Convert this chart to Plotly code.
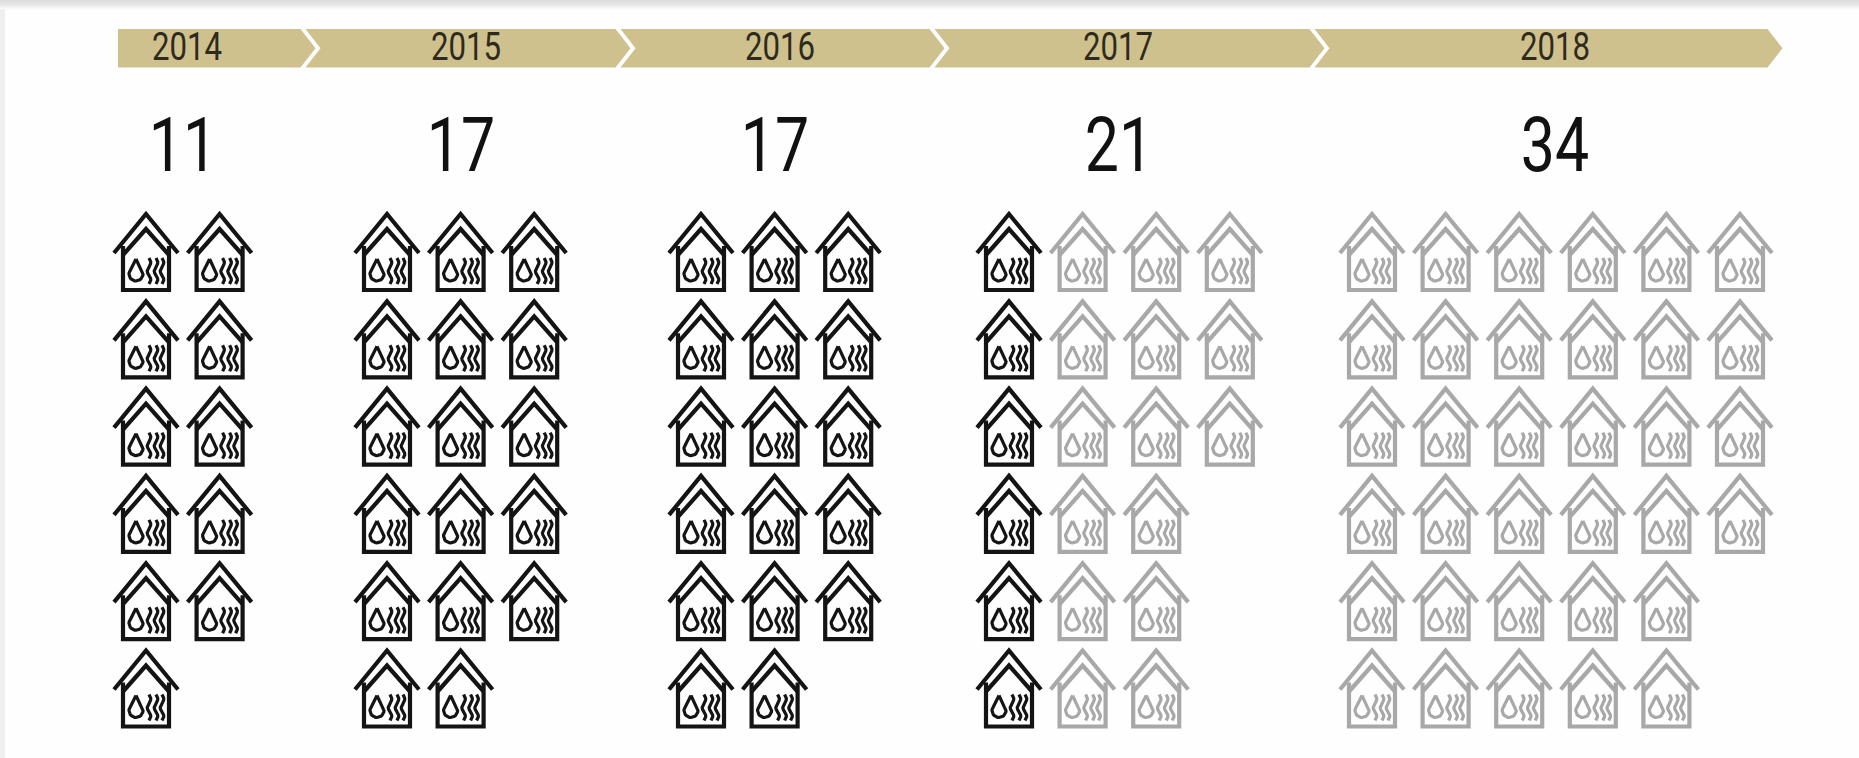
import numpy as np
import plotly.graph_objects as go

W, H = 1859, 758

# ---- data ----
years = ["2014", "2015", "2016", "2017", "2018"]
totals = [11, 17, 17, 21, 34]
dark_counts = [11, 17, 17, 6, 0]
# houses per row in every year block
row_counts = {
    "2014": [2, 2, 2, 2, 2, 1],
    "2015": [3, 3, 3, 3, 3, 2],
    "2016": [3, 3, 3, 3, 3, 2],
    "2017": [4, 4, 4, 3, 3, 3],
    "2018": [6, 6, 6, 6, 5, 5],
}
# ---- layout constants (in figure pixels) ----
block_x = [146, 387, 701, 1009, 1372]
label_x = [187, 466, 780, 1118, 1555]
count_x = [183, 461, 775, 1119, 1555]
seg_edges = [118, 303, 618, 932, 1312, 1770]
COL_STEP, ROW_STEP, TOP = 73.6, 87.3, 214
BAR_T, BAR_B, TIP = 29, 67.5, 15
GAP = 2.5
GOLD, DARK, GREY = "#cfc18e", "#141414", "#a8a8a8"


def sline(x0):
    t = np.linspace(0, 1, 15)
    return list(x0 + 1.8 * np.sin(t * 2 * np.pi * 1.5)), list(44 + t * 26)


OUTER = [
    ([-32, 0, 32], [39, 0, 39]),
    ([-23, -23, 23, 23], [32, 76, 76, 32]),
    ([-23, 0, 23], [41, 15, 41]),
]
_a = np.linspace(0.75, -np.pi - 0.75, 25)
INNER = [
    ([-10] + list(-10 + 7 * np.cos(_a)) + [-10], [45] + list(60 - 7 * np.sin(_a)) + [45]),
    sline(3), sline(10), sline(16),
]


def houses(positions, paths):
    xs, ys = [], []
    for cx, cy in positions:
        for px, py in paths:
            xs += [cx + v for v in px] + [None]
            ys += [cy + v for v in py] + [None]
    return xs, ys


fig = go.Figure()

# top and left page edges
for i, c in enumerate(["#dcdcdc", "#e0e0e0", "#e6e6e6", "#ececec", "#f3f3f3", "#f9f9f9"]):
    fig.add_shape(type="rect", x0=0, x1=W, y0=i * 1.6, y1=(i + 1) * 1.6 + 0.5,
                  fillcolor=c, line_width=0, layer="below")
fig.add_shape(type="rect", x0=0, x1=5, y0=9, y1=H, fillcolor="#f0f0f0",
              line_width=0, layer="below")

# timeline chevrons
mid = (BAR_T + BAR_B) / 2
for i, yr in enumerate(years):
    l, r = seg_edges[i], seg_edges[i + 1] - GAP
    if i == 0:
        xs = [l, r, r + TIP, r, l, l]
        ys = [BAR_T, BAR_T, mid, BAR_B, BAR_B, BAR_T]
    else:
        l += GAP
        xs = [l, r, r + TIP, r, l, l + TIP, l]
        ys = [BAR_T, BAR_T, mid, BAR_B, BAR_B, mid, BAR_T]
    fig.add_trace(go.Scatter(x=xs, y=ys, mode="lines", fill="toself", fillcolor=GOLD,
                             line=dict(width=0), hoverinfo="skip", showlegend=False))

# year labels and totals
fig.add_trace(go.Scatter(x=label_x, y=[mid + 2] * 5, text=years, mode="text",
                         textfont=dict(family="Roboto", size=39, color="#2e2a1c"),
                         textposition="middle center", hoverinfo="skip", showlegend=False))
fig.add_trace(go.Scatter(x=count_x, y=[152] * 5, text=[str(t) for t in totals], mode="text",
                         textfont=dict(family="Roboto", size=76, color="#111111"),
                         textposition="middle center", hoverinfo="skip", showlegend=False))

# houses: in 2017 only the first column is dark
dark_pos, grey_pos = [], []
for i, yr in enumerate(years):
    for r, n in enumerate(row_counts[yr]):
        for c in range(n):
            pos = (block_x[i] + c * COL_STEP, TOP + r * ROW_STEP)
            if dark_counts[i] == totals[i] or (dark_counts[i] > 0 and c == 0):
                dark_pos.append(pos)
            else:
                grey_pos.append(pos)

for pos, colr in [(grey_pos, GREY), (dark_pos, DARK)]:
    x, y = houses(pos, OUTER)
    fig.add_trace(go.Scatter(x=x, y=y, mode="lines", line=dict(color=colr, width=4.2),
                             hoverinfo="skip", showlegend=False))
    x, y = houses(pos, INNER)
    fig.add_trace(go.Scatter(x=x, y=y, mode="lines", line=dict(color=colr, width=3.2),
                             hoverinfo="skip", showlegend=False))

fig.update_layout(
    width=W, height=H, margin=dict(l=0, r=0, t=0, b=0),
    paper_bgcolor="#fefefe", plot_bgcolor="#fefefe", showlegend=False,
    xaxis=dict(range=[0, W], visible=False, fixedrange=True),
    yaxis=dict(range=[H, 0], visible=False, fixedrange=True),
)

# page without margin; numerals narrowed to the condensed look of the original
post = """
document.body.style.margin='0';
document.querySelectorAll('.textpoint text').forEach(function(t){
  var x=parseFloat(t.getAttribute('x'));
  t.setAttribute('transform','translate('+x+',0) scale(0.8,1) translate('+(-x)+',0)');
});
"""
fig.write_html("out.html", config={"displayModeBar": False},
               default_width=W, default_height=H, post_script=post)
